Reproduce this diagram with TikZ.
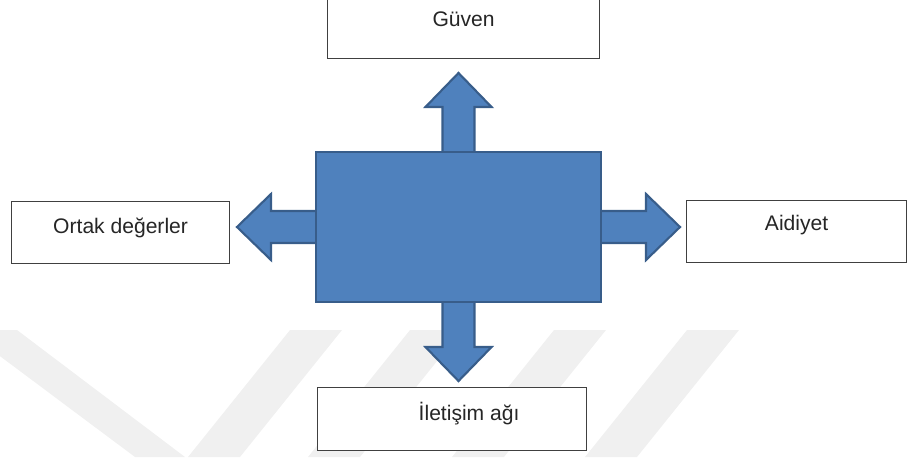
\documentclass[tikz,border=0pt]{standalone}
\usepackage{fontspec}
\setmainfont{Liberation Sans}
\usetikzlibrary{backgrounds}
\definecolor{blockblue}{HTML}{4F81BD}
\definecolor{blockline}{HTML}{385D8A}
\definecolor{markgray}{HTML}{F0F0F0}

\begin{document}
\begin{tikzpicture}[x=0.02cm,y=-0.02cm,
    text box/.style={draw=black!75,fill=white,line width=0.7pt,inner xsep=0pt,inner ysep=0pt,
      font=\fontsize{12}{14}\selectfont,text=black!85},
    block/.style={fill=blockblue,draw=blockline,line width=1.2pt,line join=miter}]
  \useasboundingbox (0,0) rectangle (908,457);

  % the four boxes round the middle
  \node[text box,anchor=south west,minimum width=5.44cm,text height=0.8cm,text depth=0.64cm] (guven) at (327,59) {Güven};
  \node[text box,anchor=north west,minimum width=4.36cm,text height=0.64cm,text depth=0.6cm] (ortak) at (11,201) {Ortak değerler};
  \node[text box,anchor=north west,minimum width=4.4cm,text height=0.6cm,text depth=0.64cm] (aidiyet) at (686,200) {Aidiyet};
  \node[text box,anchor=north west,minimum width=5.38cm,text height=0.66cm,text depth=0.6cm] (iletisim) at (317,387) {\hspace*{0.68cm}İletişim ağı};

  % big blue block
  \node[block,minimum width=5.7cm,minimum height=3cm] (centre) at (458.5,227) {};

  \begin{scope}[on background layer]
    % faint bands at the bottom
    \fill[markgray] (-35,330) -- (17,330) -- (185,457) -- (135,457) -- cycle;
    \foreach \a in {290,410,554,687}
      \fill[markgray] (\a,330) -- ({\a+52},330) -- ({\a-50},457) -- ({\a-102},457) -- cycle;
    % block arrows out of the middle
    \foreach \side/\ang in {north/90,south/-90,west/180,east/0}
      \draw[block,shift={(centre.\side)},rotate=\ang]
        (0,-16) -- (44,-16) -- (44,-33) -- (78,0) -- (44,33) -- (44,16) -- (0,16);
  \end{scope}
\end{tikzpicture}
\end{document}
